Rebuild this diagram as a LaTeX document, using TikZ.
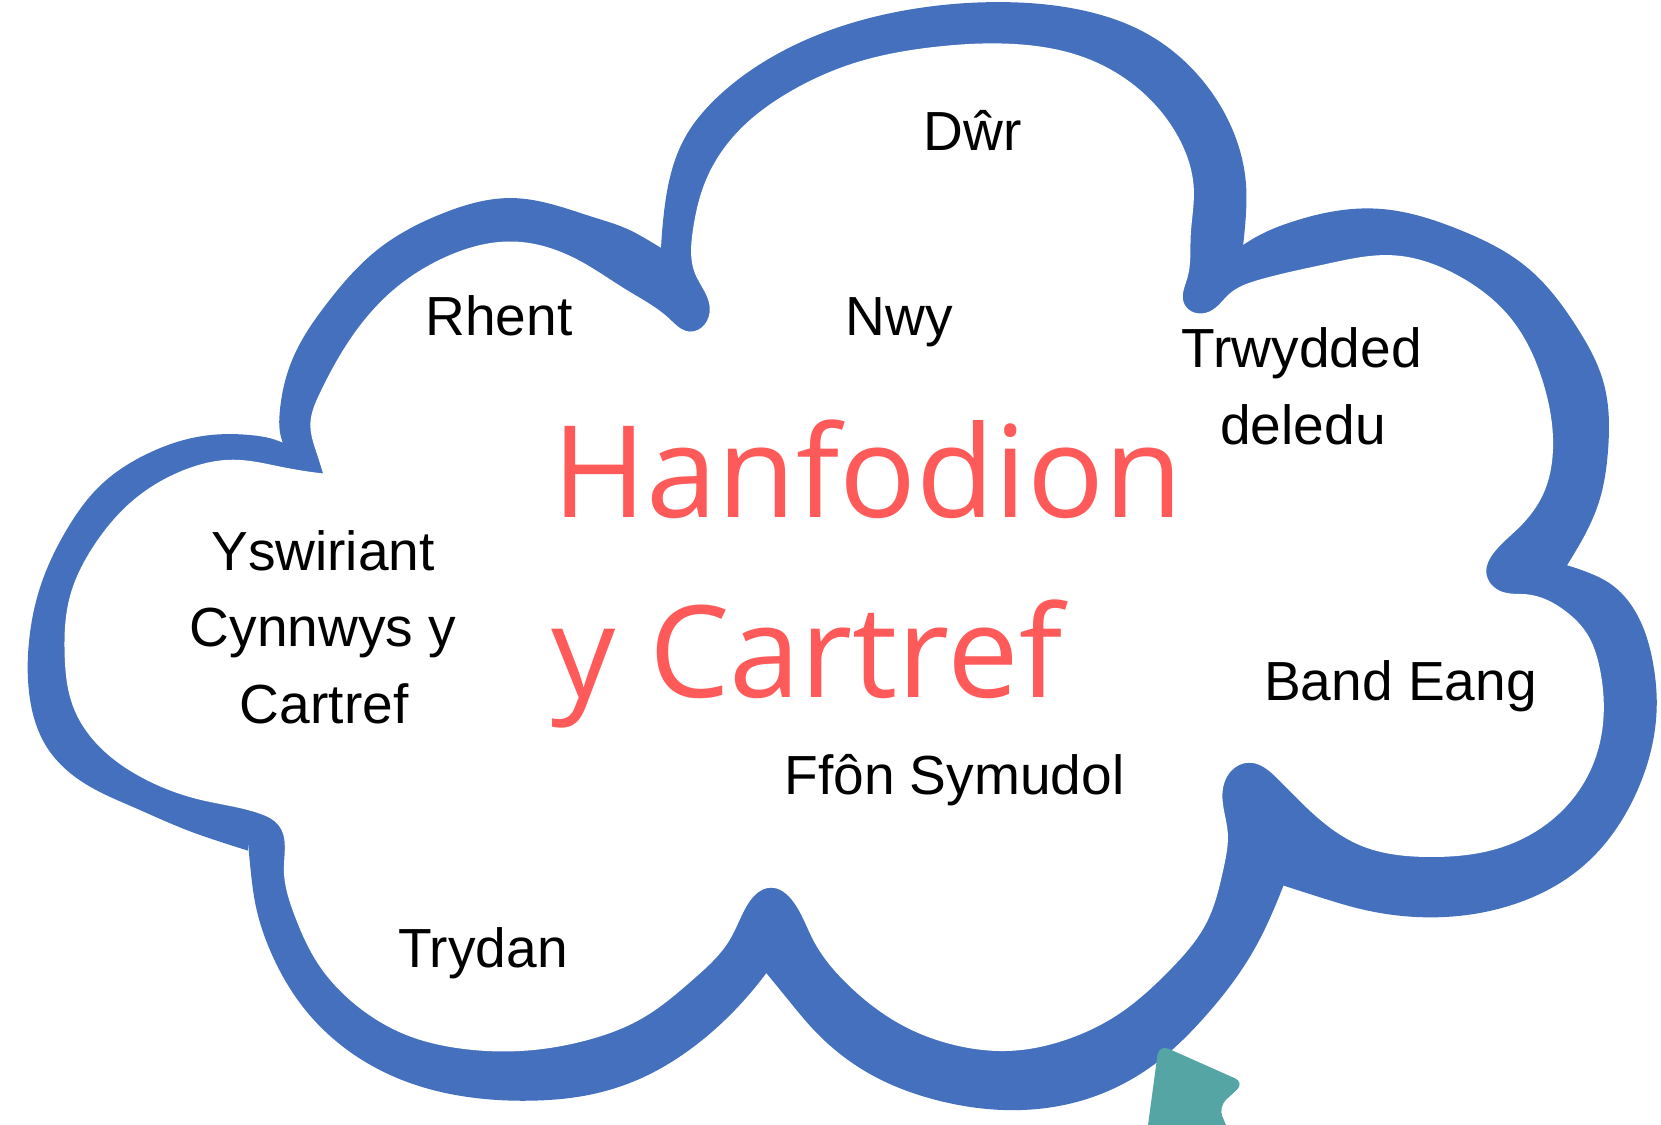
\documentclass[tikz,border=0pt]{standalone}
\usepackage{fontspec}
\usetikzlibrary{hobby}
\setmainfont{Liberation Sans}
\newfontfamily\titlefont{Open Sans}
\definecolor{cloudblue}{HTML}{4570BE}
\definecolor{titlered}{HTML}{FF5A5A}
\definecolor{tealmark}{HTML}{55A5A5}
\begin{document}
\begin{tikzpicture}[x=0.1mm,y=-0.1mm,
  txt/.style={font=\fontsize{14.8}{17}\selectfont, inner sep=0pt, anchor=base},
  ttl/.style={font=\titlefont\fontsize{34.3}{40}\selectfont, text=titlered, inner sep=0pt, anchor=base west}]
\useasboundingbox (0,0) rectangle (1568,1062);
\clip (0,0) rectangle (1568,1062);
% cloud: outer boundary (lobes meeting in notches)
\fill[cloudblue]
  (267,418) to[curve through={(252,413) (239,411) (189,412) (142,427) (94,459) (63,500) (38,554) (27,610) (28,658) (44,705) (79,739) (126,762) (180,785) (212,796)}] (234,803)
  to[curve through={(237,825) (241,853) (258,904) (284,948) (329,992) (386,1022) (453,1037) (504,1039) (554,1034) (605,1018) (655,988) (699,948)}] (726,915)
  to[curve through={(745,945) (768,972) (818,1012) (886,1039) (954,1048) (1021,1039) (1088,1006) (1139,958) (1183,898) (1206,850)}] (1215,827)
  to[curve through={(1246,847) (1284,858) (1349,866) (1425,855) (1494,818) (1544,750) (1564,665) (1561,629) (1551,592) (1520,551) (1498,540)}] (1477,533)
  to[curve through={(1487,521) (1495,507) (1510,472) (1518,425) (1514,362) (1488,308) (1441,252) (1378,217) (1300,197) (1221,209) (1195,219)}] (1174,231)
  to[curve through={(1176,205) (1176,171) (1162,119) (1131,71) (1083,32) (1023,10) (944,2) (865,8) (785,28) (725,56) (678,91) (646,131) (630,179) (626,208)}] (624,234)
  to[curve through={(600,220) (560,205) (484,187) (419,201) (356,236) (309,286) (277,337) (264,390) (264,406)}] (267,418)
  -- cycle;
% cloud: inner boundary (with the knobs where lobes meet)
\fill[white]
  (305,447) to[curve through={(267,441) (220,434) (173,444) (126,472) (88,516) (66,563) (61,617) (69,667) (94,705) (132,733) (189,755) (245,768) (263,779) (268,820) (278,864) (301,911) (335,948) (386,978) (436,990) (494,992) (554,982) (605,962) (655,924) (689,887) (705,855) (728,838) (748,850) (768,888) (802,931) (852,968) (903,987) (954,992) (1005,982) (1055,958) (1105,915) (1139,871) (1155,820) (1159,786) (1154,749) (1162,728) (1179,720) (1206,735) (1233,762) (1284,798) (1349,809) (1414,801) (1474,766) (1506,716) (1514,665) (1510,630) (1498,598) (1478,577) (1441,561) (1419,559) (1403,540) (1410,522) (1435,497) (1457,466) (1466,425) (1457,362) (1425,299) (1378,261) (1315,241) (1253,249) (1189,264) (1161,277) (1142,294) (1118,287) (1121,262) (1124,223) (1127,179) (1111,127) (1075,84) (1023,54) (964,42) (885,44) (805,60) (745,87) (694,127) (666,171) (654,218) (656,258) (670,290) (651,313) (632,301) (592,274) (545,245) (484,228) (422,242) (371,274) (330,321) (302,371) (293,400) (299,428)}] (305,447)
  -- cycle;
% teal pointer
\fill[tealmark, rounded corners=1mm] (1094,986) -- (1175,1022) -- (1150,1045) -- (1163,1075) -- (1082,1075) -- cycle;
% title
\node[ttl] (hanfodion) at (521,489) {Hanfodion};
\node[ttl] (ycartref) at (520,658) {y Cartref};
% labels
\node[txt] (dwr) at (918,142) {Dŵr};
\node[txt] (rhent) at (471,317) {Rhent};
\node[txt] (nwy) at (849,317) {Nwy};
\node[txt] (trwydded) at (1229,347) {Trwydded};
\node[txt] (deledu) at (1230,420) {deledu};
\node[txt] (yswiriant) at (305,539) {Yswiriant};
\node[txt] (cynnwys) at (305,610) {Cynnwys y};
\node[txt] (cartref) at (306,683) {Cartref};
\node[txt] (band) at (1322,661) {Band Eang};
\node[txt] (ffon) at (901,750) {Ffôn Symudol};
\node[txt] (trydan) at (456,913) {Trydan};
\end{tikzpicture}
\end{document}
